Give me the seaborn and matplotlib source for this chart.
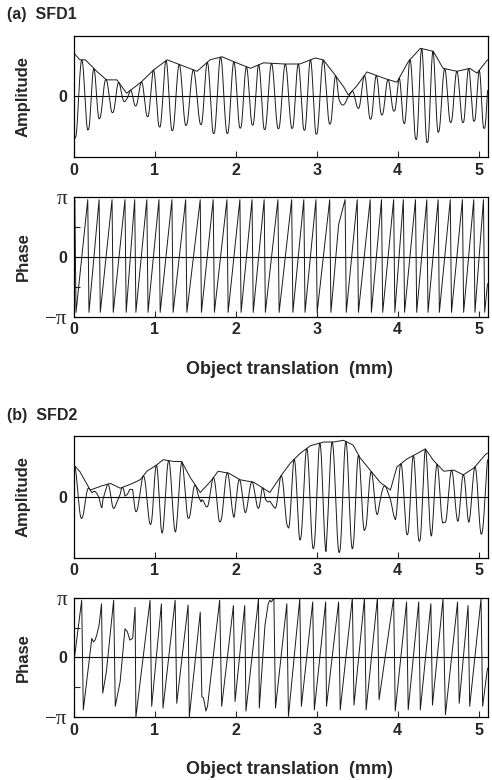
import numpy as np
import seaborn as sns
import matplotlib.pyplot as plt

PI = np.pi
X_MAX = 5.11

# ---------------- (a) SFD1 ----------------
# envelope of the amplitude trace (mm, fraction of the half-height)
sfd1_env_x = [0.00, 0.07, 0.14, 0.28, 0.40, 0.53, 0.65, 0.82, 0.98, 1.15, 1.35, 1.52,
              1.68, 1.83, 1.97, 2.18, 2.34, 2.59, 2.79, 2.98, 3.08, 3.21, 3.33, 3.39,
              3.49, 3.62, 3.82, 3.99, 4.13, 4.28, 4.44, 4.56, 4.73, 4.89, 4.98, 5.11]
sfd1_env_y = [0.71, 0.60, 0.60, 0.41, 0.27, 0.27, 0.05, 0.22, 0.43, 0.60, 0.50, 0.41,
              0.60, 0.65, 0.57, 0.46, 0.55, 0.53, 0.53, 0.63, 0.60, 0.38, 0.16, 0.02,
              0.16, 0.40, 0.30, 0.23, 0.57, 0.79, 0.74, 0.46, 0.41, 0.46, 0.38, 0.60]
# positions (mm) where the phase wraps from +pi to -pi
sfd1_wraps = [0.01, 0.17, 0.31, 0.47, 0.63, 0.75, 0.90, 1.05, 1.21, 1.38, 1.56, 1.72,
              1.89, 2.05, 2.20, 2.35, 2.52, 2.69, 2.84, 2.99, 3.16, 3.35, 3.50, 3.66,
              3.80, 3.95, 4.07, 4.22, 4.36, 4.50, 4.65, 4.80, 4.94, 5.06]
# slow, bent ramp before the wrap at 3.35 mm (mm, phase / pi)
sfd1_kink_x = [3.21, 3.27]
sfd1_kink_y = [-0.40, 0.54]

# ---------------- (b) SFD2 ----------------
sfd2_env_x = [0.00, 0.07, 0.20, 0.32, 0.45, 0.57, 0.69, 0.82, 0.90, 1.02, 1.10, 1.23,
              1.33, 1.43, 1.56, 1.68, 1.78, 1.91, 2.05, 2.22, 2.34, 2.42, 2.55, 2.67,
              2.79, 2.92, 3.08, 3.20, 3.33, 3.45, 3.53, 3.66, 3.78, 3.91, 3.99, 4.11,
              4.24, 4.34, 4.44, 4.57, 4.69, 4.81, 4.94, 5.08, 5.11]
sfd2_env_y = [0.52, 0.42, 0.11, 0.17, 0.22, 0.14, 0.20, 0.28, 0.42, 0.52, 0.61, 0.58,
              0.58, 0.33, 0.07, 0.24, 0.42, 0.39, 0.28, 0.24, 0.14, 0.07, 0.33, 0.55,
              0.71, 0.84, 0.90, 0.90, 0.93, 0.85, 0.65, 0.44, 0.24, 0.11, 0.49, 0.62,
              0.71, 0.79, 0.60, 0.42, 0.44, 0.36, 0.47, 0.69, 0.72]
# phase trace vertices (mm, phase / pi)
sfd2_phase_x = [0.01, 0.095, 0.115, 0.20, 0.22, 0.24, 0.26, 0.28, 0.31, 0.34, 0.355, 0.40,
                0.49, 0.51, 0.57, 0.63, 0.66, 0.69, 0.725, 0.755, 0.765, 0.94, 0.96,
                1.08, 1.10, 1.25, 1.27, 1.41, 1.425, 1.56, 1.58, 1.60, 1.63, 1.65,
                1.80, 1.825, 1.97, 1.99, 2.11, 2.125, 2.28, 2.29, 2.36, 2.40, 2.42,
                2.44, 2.47, 2.49, 2.63, 2.65, 2.79, 2.81, 2.95, 2.97, 3.11, 3.12,
                3.27, 3.29, 3.44, 3.46, 3.59, 3.61, 3.75, 3.77, 3.95, 3.97, 4.11, 4.13,
                4.26, 4.28, 4.41, 4.43, 4.56, 4.59, 4.74, 4.76, 4.87, 4.89, 5.03, 5.05,
                5.11]
sfd2_phase_y = [0.04, 0.96, -0.88, 0.09, 0.32, 0.26, 0.29, 0.37, 0.54, 0.90, -0.60, -0.24,
                0.96, -0.82, -0.41, 0.48, 0.43, 0.29, 0.32, 0.84, -1.00, 0.96, -0.82,
                0.90, -0.85, 0.96, -0.77, 0.88, -1.00, 0.76, -0.66, -0.68, -0.90, -0.82,
                0.96, -0.82, 0.87, -0.74, 0.87, -0.90, 0.98, -0.85, 0.54, 0.90, 0.96,
                0.93, 1.00, -0.85, 0.90, -0.99, 0.98, -0.82, 0.93, -0.88, 0.93, -0.82,
                0.93, -0.88, 1.00, -0.80, 1.00, -0.88, 1.00, -0.71, 1.00, -0.90, 0.93, -0.88,
                0.93, -0.88, 0.90, -0.80, 0.98, -0.96, 0.93, -0.77, 0.87, -0.82, 0.98, -0.82,
                -0.18]


def sawtooth_vertices(wraps, kink_x, kink_y, top=0.96, bottom=-0.93, drop=0.015):
    pts = [(0.0, 0.80)]
    for w in wraps:
        pts.append((w, top))
        pts.append((w + drop, bottom))
    pts += list(zip(kink_x, kink_y))
    pts.append((X_MAX, -0.45))
    pts.sort()
    xs, ys = zip(*pts)
    return np.array(xs), np.array(ys) * PI


def unwrap_drops(ph):
    # only the +pi -> -pi jumps are wraps; the ramps are real phase growth
    d = np.diff(ph)
    d[d < -PI] += 2 * PI
    return np.concatenate([[ph[0]], ph[0] + np.cumsum(d)])


def amplitude_trace(env_x, env_y, ph_x, ph_y):
    # real part = |A| cos(phase), evaluated along the measured traces
    x = np.linspace(0, X_MAX, 4000)
    env = np.interp(x, env_x, env_y)
    phi = np.interp(x, ph_x, unwrap_drops(ph_y))
    return x, env * np.cos(phi), env


sns.set_style("white")
plt.rcParams['font.family'] = ['Liberation Sans', 'DejaVu Sans']
plt.rcParams['font.weight'] = 'bold'

fig = plt.figure(figsize=(4.92, 7.80), dpi=100)
W, H = 492.0, 780.0


def add_axes(top, bottom, left=74, right=487.5):
    return fig.add_axes([left / W, 1 - bottom / H, (right - left) / W, (bottom - top) / H])


def style(ax, phase):
    ax.set_xlim(0, X_MAX)
    ax.set_xticks(range(6))
    ax.set_xticklabels([str(i) for i in range(6)], fontsize=11.5, fontweight='bold')
    for s in ax.spines.values():
        s.set_linewidth(0.9)
        s.set_color('black')
        s.set_visible(True)
    ax.tick_params(axis='x', direction='in', length=4, width=0.8, pad=4, bottom=True)
    ax.tick_params(axis='y', direction='in', length=4, width=0.8, pad=5, left=True)
    ax.axhline(0, color='black', lw=0.8, zorder=1)
    ax.set_xlabel('')
    if phase:
        ax.set_ylim(-PI, PI)
        ax.set_yticks([-PI, -PI / 2, 0, PI / 2, PI])
        ax.set_yticklabels(['\u2212\u03c0', '', '0', '', '\u03c0'])
        for lbl in ax.get_yticklabels():
            if '\u03c0' in lbl.get_text():
                lbl.set_family(['Liberation Serif', 'DejaVu Serif'])
                lbl.set_fontweight('normal')
                lbl.set_fontsize(15)
            else:
                lbl.set_fontsize(11.5)
                lbl.set_fontweight('bold')
        ax.set_ylabel('Phase', fontsize=12, fontweight='bold')
    else:
        ax.set_ylim(-1, 1)
        ax.set_yticks([0])
        ax.set_yticklabels(['0'], fontsize=11.5, fontweight='bold')
        ax.tick_params(axis='y', length=0)
        ax.set_ylabel('Amplitude', fontsize=12, fontweight='bold')
    ax.yaxis.set_label_coords(-0.105, 0.5)


panels = [
    ('(a)  SFD1', 0, sfd1_env_x, sfd1_env_y,
     sawtooth_vertices(sfd1_wraps, sfd1_kink_x, sfd1_kink_y)),
    ('(b)  SFD2', 400.5, sfd2_env_x, sfd2_env_y,
     (np.array(sfd2_phase_x), np.array(sfd2_phase_y) * PI)),
]

for title, dy, env_x, env_y, (ph_x, ph_y) in panels:
    ax_amp = add_axes(35.5 + dy, 157 + dy)
    ax_ph = add_axes(197.3 + dy, 316.5 + dy)

    x, amp, env = amplitude_trace(env_x, env_y, ph_x, ph_y)
    sns.lineplot(x=x, y=amp, ax=ax_amp, color='#1a1a1a', lw=0.7,
                 estimator=None, sort=False)
    sns.lineplot(x=x, y=env, ax=ax_amp, color='#1a1a1a', lw=0.7,
                 estimator=None, sort=False)
    sns.lineplot(x=ph_x, y=ph_y, ax=ax_ph, color='#1a1a1a', lw=0.7,
                 estimator=None, sort=False)

    style(ax_amp, phase=False)
    style(ax_ph, phase=True)

    fig.text(7 / W, 1 - (19.5 + dy) / H, title, fontsize=11.5, fontweight='bold',
             ha='left', va='baseline')
    fig.text(289 / W, 1 - (374 + dy) / H, 'Object translation  (mm)', fontsize=13,
             fontweight='bold', ha='center', va='baseline')

fig.savefig('out.png', dpi=100)
